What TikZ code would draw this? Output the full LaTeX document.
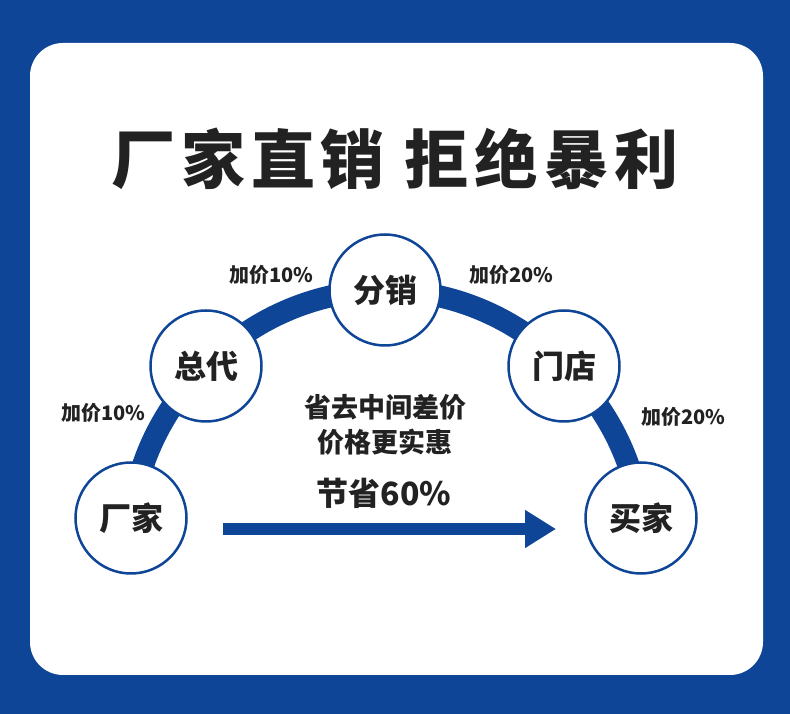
\documentclass[tikz,border=0pt]{standalone}
\usepackage{fontspec}
\setmainfont{Noto Sans CJK SC}
\newfontfamily\titlefont{Noto Sans CJK SC}[LetterSpace=9]
\usetikzlibrary{arrows.meta}
\definecolor{brandblue}{RGB}{14,69,150}
\definecolor{inkgray}{RGB}{34,34,34}
\pgfdeclarelayer{back}
\pgfdeclarelayer{bandlayer}
\pgfsetlayers{back,bandlayer,main}
\begin{document}
\begin{tikzpicture}[x=1pt,y=1pt,
  stage/.style={circle, draw=brandblue, line width=2.5pt, fill=white,
    minimum size=111pt, inner sep=0pt,
    font=\fontsize{32}{32}\selectfont\bfseries, text=inkgray},
  markup/.style={font=\fontsize{20}{20}\selectfont\bfseries, text=inkgray},
  band/.style={draw=brandblue, line width=22pt, looseness=0.89},
  note/.style={font=\fontsize{27}{35}\selectfont\bfseries, text=inkgray, align=center},
  bigarrow/.style={draw=brandblue, line width=12pt, -{Triangle[length=31pt,width=36pt]}}]
\useasboundingbox (0,0) rectangle (790,714);
\begin{pgfonlayer}{back}
  \fill[brandblue] (0,0) rectangle (790,714);
  \fill[white, rounded corners=33pt] (30,39) rectangle (763,671);
\end{pgfonlayer}

% title
\node[font=\fontsize{64}{64}\selectfont\bfseries, text=inkgray] (title) at (395,555)
  {\titlefont\bfseries 厂家直销\hspace{20pt}拒绝暴利};

% stages
\node[stage] (factory) at (131,196) {厂家};
\node[stage] (agent)   at (206,348) {总代};
\node[stage] (dist)    at (385,424) {分销};
\node[stage] (store)   at (564,348) {门店};
\node[stage] (buyer)   at (641,196) {买家};

\begin{pgfonlayer}{bandlayer}
  \draw[band] (factory.center) to[bend left=19.35] (agent.center);
  \draw[band] (agent.center) to[bend left=22.5] (dist.center);
  \draw[band] (dist.center) to[bend left=22.5] (store.center);
  \draw[band] (store.center) to[bend left=19.5] (buyer.center);
\end{pgfonlayer}

% markups
\node[markup] (m1) at (103.5,301) {加价10\%};
\node[markup] (m2) at (271.5,439) {加价10\%};
\node[markup] (m3) at (511.5,439) {加价20\%};
\node[markup] (m4) at (683.5,297) {加价20\%};

% center text
\node[note] (save) at (385,289.5) {省去中间差价\\价格更实惠};
\node[font=\fontsize{32}{32}\selectfont\bfseries, text=inkgray] (pct) at (384,221) {节省60\%};

% arrow
\coordinate (arrowstart) at (223,185);
\coordinate (arrowend) at (556,185);
\draw[bigarrow] (arrowstart) -- (arrowend);
\end{tikzpicture}
\end{document}
